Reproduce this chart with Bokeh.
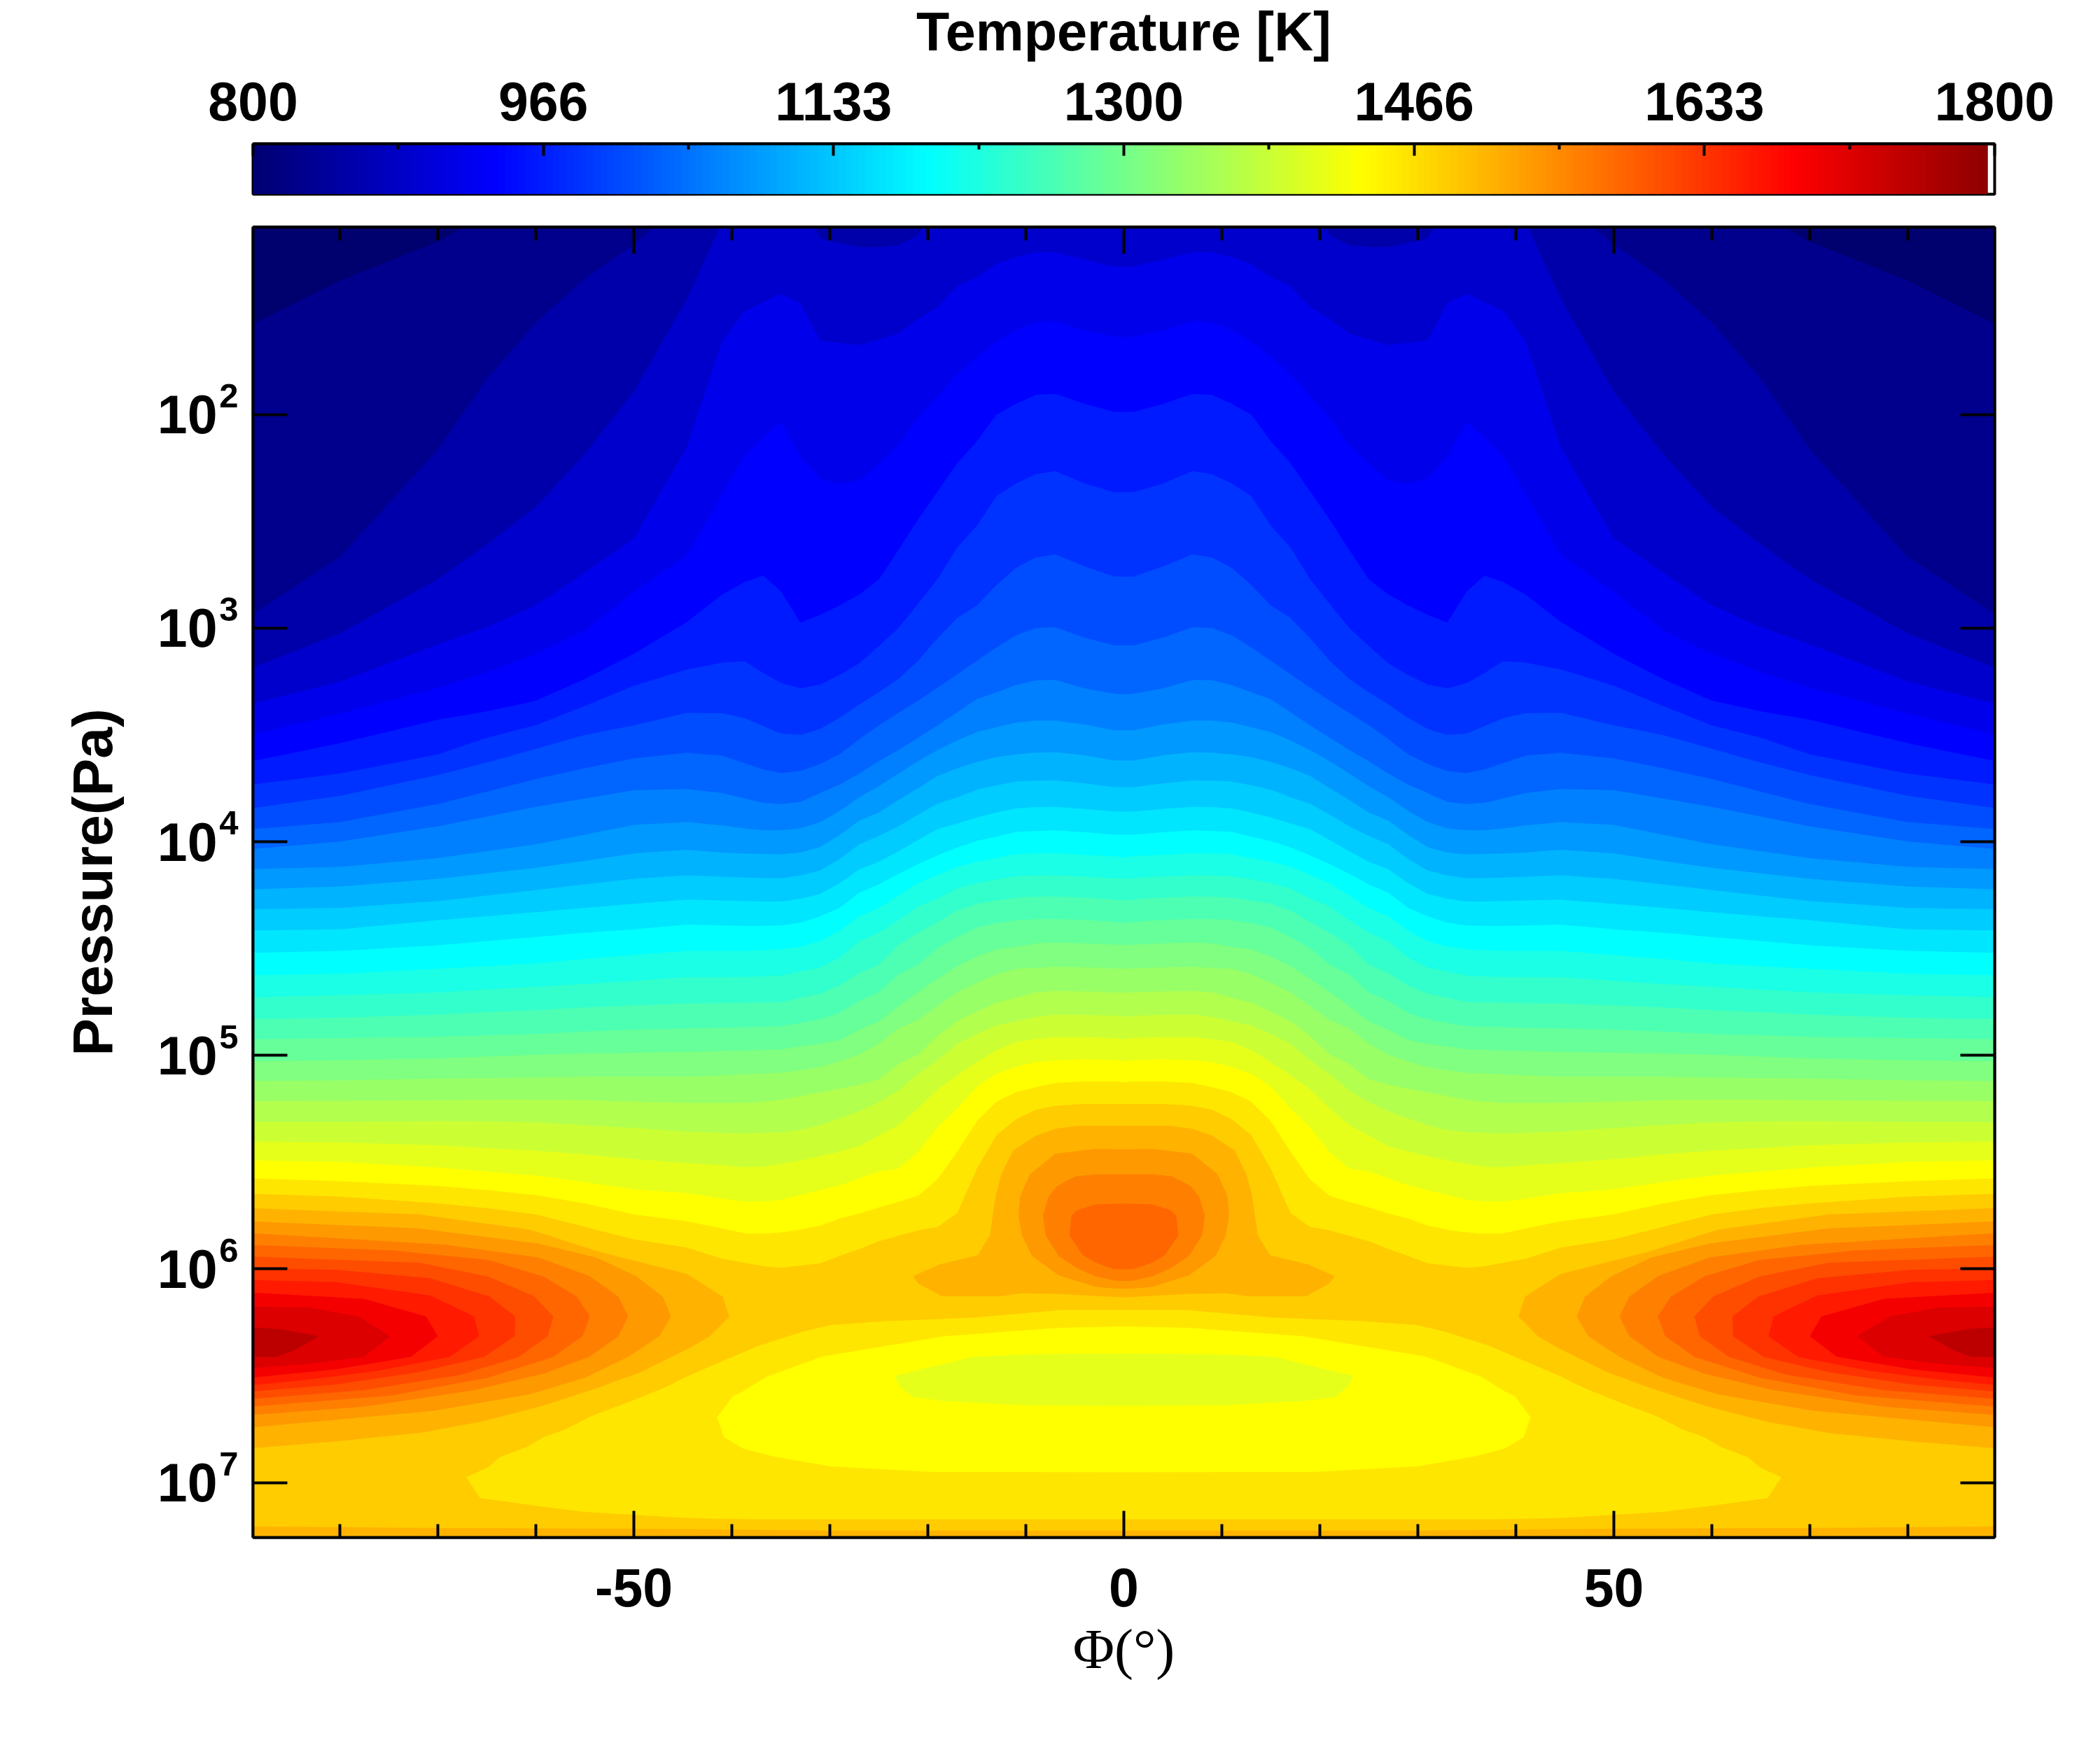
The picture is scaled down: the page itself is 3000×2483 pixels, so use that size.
import numpy as np
from bokeh.embed import file_html
from bokeh.layouts import column
from bokeh.models import FixedTicker, LinearAxis, LogAxis, LogScale, Range1d
from bokeh.plotting import figure
from bokeh.resources import INLINE

# ---- chart values -------------------------------------------------------
colorbar_ticks = [800, 966.67, 1133.33, 1300, 1466.67, 1633.33, 1800]
colorbar_minor = [883.33, 1050, 1216.67, 1383.33, 1550, 1716.67]
colorbar_labels = ["800", "966", "1133", "1300", "1466", "1633", "1800"]
lat_ticks = [-50, 0, 50]
lat_minor = [-80, -70, -60, -40, -30, -20, -10, 10, 20, 30, 40, 60, 70, 80]
pressure_ticks = [1e2, 1e3, 1e4, 1e5, 1e6, 1e7]
pressure_exponents = ["2", "3", "4", "5", "6", "7"]

# latitude nodes (deg) of the isotherms; the field is mirrored about the equator
lat_nodes = [-89, -80, -70, -65, -60, -55, -50, -44.6, -41, -38.7, -36.8, -35, -33, -31, -29, -27, -25, -23, -21, -19, -17, -15, -13, -11, -9, -7, -4, -1, 0]
# log10(pressure / Pa) of each isotherm at those latitudes
iso_825 = [1.578, 1.373, 1.19, 1.06, 1.0, 1.0, 1.0, 1.0, 1.0, 1.0, 1.0, 1.0, 1.0, 1.0, 1.0, 1.0, 1.0, 1.0, 1.0, 1.0, 1.0, 1.0, 1.0, 1.0, 1.0, 1.0, 1.0, 1.0, 1.0]
iso_850 = [2.938, 2.667, 2.163, 1.833, 1.57, 1.365, 1.204, 0.99, 1.0, 1.0, 1.0, 1.0, 1.0, 1.0, 1.0, 1.0, 1.0, 1.0, 1.0, 1.0, 1.0, 1.0, 1.0, 1.0, 1.0, 1.0, 1.0, 1.0, 1.0]
iso_875 = [3.187, 3.026, 2.77, 2.609, 2.433, 2.184, 1.892, 1.46, 1.10, 1.0, 1.0, 1.0, 1.0, 1.175, 1.197, 1.216, 1.216, 1.207, 1.16, 1.0, 1.0, 1.0, 1.0, 1.0, 1.0, 1.0, 1.0, 1.0, 1.0]
iso_900 = [3.355, 3.25, 3.077, 2.996, 2.894, 2.74, 2.58, 2.155, 1.658, 1.515, 1.475, 1.435, 1.479, 1.655, 1.665, 1.675, 1.65, 1.621, 1.553, 1.497, 1.399, 1.358, 1.295, 1.263, 1.242, 1.241, 1.275, 1.307, 1.31]
iso_925 = [3.50, 3.40, 3.28, 3.208, 3.12, 3.011, 2.83, 2.66, 2.375, 2.192, 2.11, 2.035, 2.199, 2.302, 2.324, 2.309, 2.228, 2.141, 2.016, 1.914, 1.811, 1.731, 1.658, 1.607, 1.57, 1.563, 1.607, 1.636, 1.64]
iso_950 = [3.623, 3.539, 3.429, 3.39, 3.34, 3.238, 3.12, 2.972, 2.843, 2.784, 2.755, 2.828, 2.974, 2.938, 2.894, 2.843, 2.772, 2.634, 2.492, 2.36, 2.228, 2.126, 2.0, 1.95, 1.909, 1.904, 1.95, 1.988, 1.988]
iso_975 = [3.733, 3.681, 3.591, 3.513, 3.455, 3.364, 3.27, 3.194, 3.162, 3.155, 3.21, 3.257, 3.282, 3.264, 3.219, 3.165, 3.084, 3.0, 2.887, 2.77, 2.623, 2.521, 2.382, 2.323, 2.28, 2.265, 2.323, 2.364, 2.364]
iso_1000 = [3.843, 3.785, 3.688, 3.63, 3.565, 3.50, 3.455, 3.397, 3.399, 3.422, 3.459, 3.494, 3.5, 3.472, 3.42, 3.358, 3.3, 3.238, 3.153, 3.047, 2.952, 2.894, 2.799, 2.718, 2.67, 2.655, 2.711, 2.759, 2.759]
iso_1025 = [3.941, 3.908, 3.824, 3.766, 3.707, 3.656, 3.61, 3.584, 3.597, 3.632, 3.662, 3.679, 3.669, 3.636, 3.591, 3.52, 3.455, 3.397, 3.34, 3.279, 3.216, 3.153, 3.091, 3.033, 3.0, 2.996, 3.045, 3.081, 3.081]
iso_1050 = [4.035, 3.999, 3.928, 3.882, 3.837, 3.798, 3.759, 3.753, 3.772, 3.798, 3.818, 3.824, 3.814, 3.772, 3.733, 3.681, 3.623, 3.571, 3.513, 3.455, 3.394, 3.333, 3.3, 3.267, 3.245, 3.242, 3.282, 3.307, 3.311]
iso_1075 = [4.128, 4.118, 4.077, 4.044, 4.012, 3.967, 3.921, 3.908, 3.924, 3.938, 3.947, 3.947, 3.938, 3.908, 3.856, 3.792, 3.74, 3.681, 3.623, 3.571, 3.526, 3.487, 3.464, 3.442, 3.433, 3.433, 3.451, 3.478, 3.478]
iso_1100 = [4.223, 4.21, 4.174, 4.148, 4.122, 4.09, 4.055, 4.038, 4.051, 4.055, 4.057, 4.06, 4.051, 4.025, 3.969, 3.902, 3.863, 3.805, 3.749, 3.692, 3.656, 3.626, 3.604, 3.591, 3.583, 3.581, 3.595, 3.62, 3.62]
iso_1125 = [4.316, 4.31, 4.278, 4.252, 4.226, 4.2, 4.174, 4.157, 4.164, 4.168, 4.17, 4.171, 4.158, 4.135, 4.081, 4.012, 3.973, 3.928, 3.873, 3.822, 3.792, 3.757, 3.736, 3.718, 3.714, 3.713, 3.727, 3.744, 3.744]
iso_1150 = [4.415, 4.41, 4.368, 4.349, 4.33, 4.31, 4.291, 4.271, 4.275, 4.278, 4.28, 4.28, 4.267, 4.245, 4.194, 4.129, 4.094, 4.045, 3.992, 3.941, 3.915, 3.886, 3.863, 3.844, 3.838, 3.837, 3.847, 3.859, 3.859]
iso_1175 = [4.52, 4.511, 4.485, 4.465, 4.446, 4.426, 4.41, 4.388, 4.392, 4.394, 4.394, 4.392, 4.379, 4.349, 4.31, 4.239, 4.2, 4.151, 4.105, 4.064, 4.027, 3.997, 3.976, 3.954, 3.95, 3.947, 3.956, 3.967, 3.967]
iso_1200 = [4.625, 4.618, 4.595, 4.582, 4.569, 4.549, 4.53, 4.511, 4.511, 4.511, 4.508, 4.504, 4.491, 4.465, 4.416, 4.349, 4.31, 4.252, 4.193, 4.155, 4.118, 4.093, 4.077, 4.057, 4.055, 4.053, 4.061, 4.068, 4.074]
iso_1225 = [4.728, 4.718, 4.705, 4.692, 4.679, 4.666, 4.651, 4.634, 4.634, 4.633, 4.631, 4.627, 4.608, 4.589, 4.543, 4.465, 4.426, 4.368, 4.303, 4.265, 4.219, 4.194, 4.176, 4.161, 4.158, 4.157, 4.163, 4.17, 4.174]
iso_1250 = [4.831, 4.824, 4.809, 4.798, 4.789, 4.776, 4.767, 4.757, 4.756, 4.753, 4.752, 4.751, 4.731, 4.712, 4.673, 4.615, 4.575, 4.485, 4.427, 4.375, 4.323, 4.291, 4.275, 4.262, 4.257, 4.256, 4.262, 4.271, 4.275]
iso_1275 = [4.925, 4.919, 4.913, 4.906, 4.9, 4.889, 4.88, 4.874, 4.871, 4.868, 4.866, 4.863, 4.848, 4.83, 4.802, 4.744, 4.705, 4.621, 4.575, 4.498, 4.446, 4.401, 4.381, 4.368, 4.362, 4.362, 4.366, 4.375, 4.379]
iso_1300 = [5.027, 5.023, 5.014, 5.006, 4.997, 4.991, 4.988, 4.984, 4.98, 4.977, 4.975, 4.972, 4.958, 4.946, 4.928, 4.88, 4.841, 4.77, 4.705, 4.641, 4.582, 4.537, 4.504, 4.492, 4.476, 4.472, 4.476, 4.482, 4.485]
iso_1325 = [5.121, 5.117, 5.109, 5.107, 5.104, 5.1, 5.1, 5.1, 5.094, 5.089, 5.085, 5.081, 5.071, 5.055, 5.029, 4.997, 4.945, 4.874, 4.835, 4.77, 4.705, 4.66, 4.621, 4.595, 4.591, 4.585, 4.588, 4.593, 4.595]
iso_1350 = [5.214, 5.213, 5.211, 5.208, 5.208, 5.21, 5.217, 5.223, 5.223, 5.223, 5.217, 5.208, 5.191, 5.174, 5.156, 5.139, 5.113, 5.042, 4.997, 4.91, 4.841, 4.796, 4.754, 4.731, 4.705, 4.699, 4.701, 4.705, 4.708]
iso_1375 = [5.312, 5.312, 5.308, 5.31, 5.314, 5.327, 5.34, 5.357, 5.363, 5.366, 5.363, 5.36, 5.35, 5.327, 5.295, 5.262, 5.22, 5.165, 5.087, 5.023, 4.945, 4.9, 4.86, 4.841, 4.821, 4.809, 4.811, 4.815, 4.819]
iso_1400 = [5.404, 5.408, 5.421, 5.434, 5.447, 5.464, 5.486, 5.505, 5.515, 5.524, 5.522, 5.508, 5.492, 5.473, 5.451, 5.425, 5.376, 5.326, 5.249, 5.159, 5.094, 5.032, 4.977, 4.938, 4.925, 4.915, 4.915, 4.919, 4.925]
iso_1425 = [5.492, 5.499, 5.525, 5.544, 5.563, 5.593, 5.628, 5.645, 5.671, 5.684, 5.684, 5.677, 5.654, 5.632, 5.609, 5.576, 5.544, 5.531, 5.453, 5.337, 5.249, 5.147, 5.087, 5.055, 5.031, 5.024, 5.018, 5.023, 5.027]
iso_1450 = [5.576, 5.589, 5.611, 5.631, 5.654, 5.693, 5.745, 5.777, 5.81, 5.833, 5.835, 5.829, 5.816, 5.797, 5.764, 5.741, 5.712, 5.686, 5.658, 5.58, 5.451, 5.308, 5.217, 5.172, 5.149, 5.13, 5.122, 5.122, 5.126]
iso_1475 = [5.648, 5.661, 5.693, 5.715, 5.745, 5.803, 5.861, 5.9, 5.952, 5.971, 5.987, 5.995, 5.984, 5.974, 5.939, 5.907, 5.87, 5.845, 5.819, 5.803, 5.738, 5.531, 5.373, 5.299, 5.255, 5.236, 5.227, 5.227, 5.227]
isotherms = [iso_825, iso_850, iso_875, iso_900, iso_925, iso_950, iso_975, iso_1000, iso_1025, iso_1050,
             iso_1075, iso_1100, iso_1125, iso_1150, iso_1175, iso_1200, iso_1225, iso_1250, iso_1275, iso_1300,
             iso_1325, iso_1350, iso_1375, iso_1400, iso_1425, iso_1450, iso_1475]

# closed warm lobes at the poles: (lat, log10 p), band index
lobe_1500 = ([-89, -71.9, -60.6, -53.5, -44.57, -40.93, -40.26, -42.24, -44.57, -49.3, -53.54, -59.2, -65.7, -71.9, -80.4, -89],
             [5.715, 5.745, 5.816, 5.92, 6.023, 6.13, 6.222, 6.315, 6.376, 6.483, 6.554, 6.639, 6.716, 6.768, 6.807, 6.84])
lobe_1525 = ([-89, -71.9, -59.76, -53.83, -49.74, -47.05, -46.2, -47.39, -50.58, -54.96, -60.6, -70.5, -89],
             [5.777, 5.81, 5.881, 5.946, 6.034, 6.13, 6.222, 6.315, 6.412, 6.509, 6.587, 6.665, 6.742])
lobe_1550 = ([-89, -69.1, -59.76, -54.54, -51.57, -50.58, -51.57, -54.54, -59.2, -66.26, -77.56, -89],
             [5.832, 5.887, 5.946, 6.032, 6.13, 6.222, 6.315, 6.412, 6.49, 6.567, 6.645, 6.684])
lobe_1575 = ([-89, -74.74, -64.85, -59.2, -55.81, -54.48, -55.24, -58.21, -64.85, -74.74, -89],
             [5.887, 5.913, 5.958, 6.036, 6.13, 6.222, 6.315, 6.412, 6.509, 6.593, 6.645])
lobe_1600 = ([-89, -71.91, -64.85, -60.19, -58.21, -58.78, -61.74, -67.67, -77.56, -89],
             [5.942, 5.971, 6.036, 6.127, 6.222, 6.315, 6.412, 6.496, 6.567, 6.609])
lobe_1625 = ([-89, -80.39, -70.78, -64.7, -62.1, -62.17, -65.27, -71.91, -80.39, -89],
             [5.997, 6.004, 6.043, 6.13, 6.222, 6.315, 6.412, 6.483, 6.541, 6.574])
lobe_1650 = ([-89, -80.39, -70.78, -66.3, -65.78, -68.8, -76.15, -83.21, -89],
             [6.052, 6.062, 6.124, 6.222, 6.315, 6.412, 6.477, 6.518, 6.544])
lobe_1675 = ([-89, -77.56, -71.2, -70, -72.76, -80.39, -89],
             [6.111, 6.14, 6.222, 6.315, 6.412, 6.47, 6.509])
lobe_1700 = ([-89, -83.21, -78.13, -74.82, -77.56, -83.21, -89],
             [6.176, 6.181, 6.222, 6.315, 6.412, 6.444, 6.464])
lobe_1725 = ([-89, -86.03, -82.14, -84.62, -86.46, -89],
             [6.273, 6.282, 6.315, 6.38, 6.412, 6.412])
polar_lobes = [(28, lobe_1500), (29, lobe_1525), (30, lobe_1550), (31, lobe_1575), (32, lobe_1600),
               (33, lobe_1625), (34, lobe_1650), (35, lobe_1675), (36, lobe_1700), (37, lobe_1725)]

# closed equatorial cells, western half, from the equator round to the equator
cell_1500 = ([0, -4.63, -6.96, -9, -11.33, -12.5, -13.08, -13.67, -14.92, -18.77, -21.54, -20.95, -18.62, -12.5, -10.46, -6.67, 0],
             [5.33, 5.33, 5.343, 5.376, 5.447, 5.557, 5.654, 5.842, 5.936, 5.978, 6.034, 6.069, 6.127, 6.127, 6.114, 6.117, 6.133])
cell_1525 = ([0, -2.87, -6.96, -9.59, -10.6, -10.75, -10.4, -9.38, -6.67, -2.87, -0.84, 0],
             [5.44, 5.438, 5.46, 5.557, 5.661, 5.751, 5.842, 5.939, 6.03, 6.084, 6.092, 6.092])
cell_1550 = ([0, -2.87, -4.9, -6.81, -7.69, -8.27, -7.98, -6.67, -4.77, -2.87, -0.84, 0],
             [5.557, 5.557, 5.566, 5.611, 5.661, 5.751, 5.842, 5.939, 5.997, 6.036, 6.056, 6.056])
cell_1575 = ([0, -2.87, -4.77, -5.35, -5.56, -4.19, -2.87, -0.98, 0],
             [5.693, 5.697, 5.725, 5.751, 5.842, 5.936, 5.971, 6.001, 6.001])
equator_cells = [(28, cell_1500), (29, cell_1525), (30, cell_1550), (31, cell_1575)]

# warmer layer along the lower boundary
bottom_1500 = ([-89, -74.7, -44.57, -29.9, 0], [7.205, 7.211, 7.218, 7.225, 7.225])

# cooler deep pockets
pocket_1475 = ([0, -6.4, -9.6, -15.4, -24.2, -30, -32.9, -37.28, -42.24, -44.57, -46.8, -50.7, -54.4, -56.9, -59.2, -60.9, -63.7, -64.85, -67.1,
                -65.7, -60.6, -55, -44.57, -37.86, 0],
               [6.192, 6.192, 6.205, 6.228, 6.244, 6.263, 6.295, 6.36, 6.457, 6.503, 6.554, 6.626, 6.69, 6.749, 6.788, 6.833, 6.882, 6.928, 6.975,
                7.073, 7.105, 7.137, 7.166, 7.172, 7.172])
pocket_1450 = ([0, -6.67, -12.5, -18.3, -24.2, -30.7, -36.4, -38.9, -39.9, -41.5, -40.8, -38.9, -35.8, -30, -19.8, 0],
               [6.269, 6.276, 6.295, 6.315, 6.36, 6.409, 6.503, 6.574, 6.596, 6.694, 6.788, 6.84, 6.878, 6.924, 6.95, 6.952])
pocket_1425 = ([0, -9.6, -15.4, -23.4, -22.85, -21.5, -18.3, -9.6, 0],
               [6.396, 6.399, 6.412, 6.5, 6.552, 6.6, 6.619, 6.639, 6.641])
deep_pockets = [(26, pocket_1475), (25, pocket_1450), (24, pocket_1425)]

# ---- styles -------------------------------------------------------------
band_colors = ["#00006e", "#00008c", "#0000aa", "#0000cd", "#0000eb", "#0000ff", "#001aff", "#0033ff", "#004dff", "#0066ff",
               "#0080ff", "#0099ff", "#00b3ff", "#00ccff", "#00e6ff", "#00ffff", "#1affe6", "#33ffcc", "#4dffb3", "#66ff99",
               "#80ff80", "#99ff66", "#b3ff4d", "#ccff33", "#e6ff1a", "#ffff00", "#ffe600", "#ffcc00", "#ffb300", "#ff9900",
               "#ff8000", "#ff6600", "#ff4d00", "#ff3300", "#ff1a00", "#f50000", "#dc0000", "#bc0000"]
FONT = "Liberation Sans"
BIG = "77px"
LW = 4
EXPONENT_RISE = 0.087


def jet(v):
    r = np.clip(1.5 - abs(4 * v - 3), 0, 1)
    g = np.clip(1.5 - abs(4 * v - 2), 0, 1)
    b = np.clip(1.5 - abs(4 * v - 1), 0, 1)
    return "#%02x%02x%02x" % (int(r * 255), int(g * 255), int(b * 255))


bar_palette = [jet(i / 255 * 1.0 - 0.012) for i in range(255)]

# ---- colour bar ---------------------------------------------------------
cb = figure(width=2990, height=300, frame_width=2488, frame_height=72, x_range=(800, 1800), y_range=(0, 1),
            y_axis_type=None, x_axis_location="above", toolbar_location=None, output_backend="svg",
            min_border_left=361, min_border_right=141, min_border_top=203, min_border_bottom=25)
cb.grid.visible = False
cb.outline_line_color = "black"
cb.outline_line_width = LW
cb.image(image=[np.arange(255).reshape(1, 255)], x=800, y=0, dw=996.1, dh=1, palette=bar_palette)
ax = cb.xaxis[0]
ax.ticker = FixedTicker(ticks=colorbar_ticks, minor_ticks=colorbar_minor)
ax.major_label_overrides = dict(zip(colorbar_ticks, colorbar_labels))
ax.major_tick_in = 17
ax.major_tick_out = 0
ax.minor_tick_in = 8
ax.minor_tick_out = 0
ax.major_tick_line_width = LW
ax.minor_tick_line_width = LW
ax.axis_line_width = LW
ax.major_label_text_font = FONT
ax.major_label_text_font_style = "bold"
ax.major_label_text_font_size = BIG
ax.major_label_text_color = "black"
ax.major_label_standoff = 34
ax.axis_label = "Temperature [K]"
ax.axis_label_text_font = FONT
ax.axis_label_text_font_style = "bold"
ax.axis_label_text_font_size = "77.5px"
ax.axis_label_text_color = "black"
ax.axis_label_standoff = 27

# ---- main panel ---------------------------------------------------------
p = figure(width=2990, height=2110, frame_width=2488, frame_height=1872, x_range=(-88.86, 88.86),
           y_range=Range1d(10 ** 7.257, 10 ** 1.123), y_axis_type="log", toolbar_location=None, output_backend="svg",
           min_border_left=361, min_border_right=141, min_border_top=22, min_border_bottom=216)
p.grid.visible = False
p.outline_line_color = "black"
p.outline_line_width = LW
p.extra_y_ranges = {"expo": Range1d(10 ** (7.257 + EXPONENT_RISE), 10 ** (1.123 + EXPONENT_RISE))}
p.extra_y_scales = {"expo": LogScale()}

BOTTOM = 10 ** 7.4


def mirror(values, sign):
    return list(values) + [sign * v for v in reversed(values[:-1])]


p.varea(x=[-89, 89], y1=[10.0, 10.0], y2=[BOTTOM, BOTTOM], fill_color=band_colors[0])
xs = mirror(lat_nodes, -1)
for k, row in enumerate(isotherms, start=1):
    ys = 10 ** np.array(mirror(row, 1))
    p.varea(x=xs, y1=ys, y2=[BOTTOM] * len(xs), fill_color=band_colors[k])

for k, (lat, logp) in polar_lobes:
    p.patch(x=lat, y=(10 ** np.array(logp)).tolist(), fill_color=band_colors[k], line_color=None)
    p.patch(x=[-v for v in lat], y=(10 ** np.array(logp)).tolist(), fill_color=band_colors[k], line_color=None)

for k, (lat, logp) in equator_cells:
    p.patch(x=mirror(lat, -1), y=(10 ** np.array(mirror(logp, 1))).tolist(), fill_color=band_colors[k], line_color=None)

blat, blog = bottom_1500
bx = mirror(blat, -1)
p.varea(x=bx, y1=10 ** np.array(mirror(blog, 1)), y2=[BOTTOM] * len(bx), fill_color=band_colors[28])

for k, (lat, logp) in deep_pockets:
    p.patch(x=mirror(lat, -1), y=(10 ** np.array(mirror(logp, 1))).tolist(), fill_color=band_colors[k], line_color=None)

xa = p.xaxis[0]
xa.ticker = FixedTicker(ticks=lat_ticks, minor_ticks=lat_minor)
xa.major_label_overrides = {-50: "-50", 0: "0", 50: "50"}
xa.major_label_standoff = 44
xa.axis_label = "Φ(°)"
xa.axis_label_text_font = "Liberation Serif"
xa.axis_label_text_font_style = "normal"
xa.axis_label_text_font_size = "81px"
xa.axis_label_text_color = "black"
xa.axis_label_standoff = 13

# tick marks on the frame
ya = p.yaxis[0]
ya.ticker = FixedTicker(ticks=pressure_ticks, minor_ticks=[])
ya.major_label_overrides = {t: "" for t in pressure_ticks}
ya.major_label_standoff = 0

# exponents, then the "10" of each label, stacked outwards
expo = LogAxis(y_range_name="expo", ticker=FixedTicker(ticks=pressure_ticks, minor_ticks=[]),
               major_label_overrides=dict(zip(pressure_ticks, pressure_exponents)),
               major_label_standoff=21, major_label_text_font=FONT, major_label_text_font_style="bold",
               major_label_text_font_size="49px", major_label_text_color="black",
               axis_line_color=None, major_tick_line_color=None, minor_tick_line_color=None,
               major_tick_in=0, major_tick_out=0, minor_tick_in=0, minor_tick_out=0)
tens = LogAxis(ticker=FixedTicker(ticks=pressure_ticks, minor_ticks=[]),
               major_label_overrides={t: "10" for t in pressure_ticks},
               major_label_standoff=0, major_label_text_font=FONT, major_label_text_font_style="bold",
               major_label_text_font_size=BIG, major_label_text_color="black",
               axis_line_color=None, major_tick_line_color=None, minor_tick_line_color=None,
               major_tick_in=0, major_tick_out=0, minor_tick_in=0, minor_tick_out=0,
               axis_label="Pressure(Pa)", axis_label_text_font=FONT, axis_label_text_font_style="bold",
               axis_label_text_font_size="80.5px", axis_label_text_color="black", axis_label_standoff=45)
p.add_layout(expo, "left")
p.add_layout(tens, "left")

top = LinearAxis(ticker=FixedTicker(ticks=lat_ticks, minor_ticks=lat_minor),
                 major_label_overrides={-50: "", 0: "", 50: ""}, major_label_standoff=0)
right = LogAxis(ticker=FixedTicker(ticks=pressure_ticks, minor_ticks=[]),
                major_label_overrides={t: "" for t in pressure_ticks}, major_label_standoff=0)
p.add_layout(top, "above")
p.add_layout(right, "right")

for a in (xa, top):
    a.major_tick_in = 38
    a.minor_tick_in = 19
for a in (ya, right):
    a.major_tick_in = 49
    a.minor_tick_in = 0
for a in (xa, ya, top, right):
    a.major_tick_out = 0
    a.minor_tick_out = 0
    a.major_tick_line_width = LW
    a.minor_tick_line_width = LW
    a.axis_line_width = LW
    a.major_label_text_font = FONT
    a.major_label_text_font_style = "bold"
    a.major_label_text_font_size = BIG
    a.major_label_text_color = "black"

root = column(cb, p, spacing=0, styles={"position": "absolute", "left": "0px", "top": "-2px"})
open("out.html", "w").write(file_html(root, INLINE))
